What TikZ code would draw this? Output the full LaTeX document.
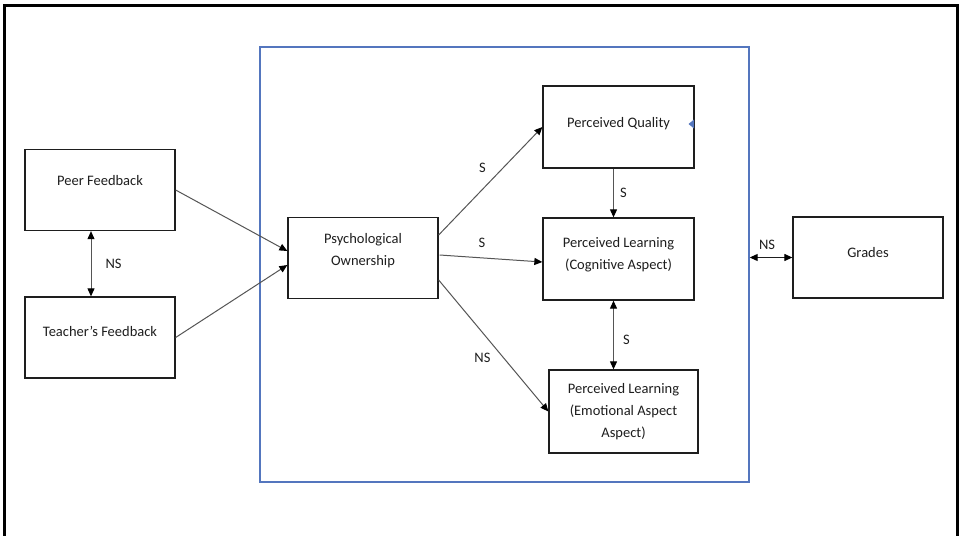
\documentclass[tikz,border=0pt]{standalone}
\usepackage{fontspec}
\setmainfont{Carlito}
\usetikzlibrary{arrows.meta,calc}
\definecolor{panelblue}{RGB}{84,118,190}
\definecolor{linegray}{RGB}{85,85,85}
\definecolor{ink}{RGB}{30,30,30}
\tikzset{
  box/.style={draw=ink, line width=1.3pt, minimum width=150pt, minimum height=81pt, inner sep=0pt},
  txt/.style={font=\fontsize{14.5}{22}\selectfont, align=center, text=ink},
  conn/.style={draw=linegray, line width=1pt, -{Triangle[length=8pt,width=7pt,color=black]}},
  dconn/.style={draw=linegray, line width=1pt, {Triangle[length=8pt,width=7pt,color=black]}-{Triangle[length=8pt,width=7pt,color=black]}},
  lbl/.style={font=\fontsize{14.5}{17}\selectfont, text=ink, inner sep=0pt},
}
\begin{document}
\begin{tikzpicture}[x=1pt,y=-1pt]
\useasboundingbox (0,0) rectangle (960,535);
\clip (0,0) rectangle (960,535);
\fill[white] (0,0) rectangle (960,535);
\draw[line width=3pt] (4,545) -- (4,6) -- (957,6) -- (957,545);
\node[draw=panelblue, line width=1.4pt, minimum width=489pt, minimum height=435pt, inner sep=0pt] (panel) at (504.5,264.5) {};

\node[box, label={[txt, yshift=9pt]center:Peer Feedback}] (peer) at (100,190) {};
\node[box, label={[txt, yshift=6.5pt]center:Teacher’s Feedback}] (teacher) at (100,337.5) {};
\node[box, label={[txt, yshift=7pt]center:Psychological\\Ownership}] (psych) at (363,258) {};
\node[box, minimum width=151pt, minimum height=82pt, label={[txt, yshift=3pt]center:Perceived Quality}] (pq) at (618.5,127) {};
\node[box, minimum width=151pt, minimum height=82pt, label={[txt, yshift=4pt]center:Perceived Learning\\(Cognitive Aspect)}] (cog) at (618.5,259) {};
\node[box, minimum width=149pt, minimum height=83pt, label={[txt]center:Perceived Learning\\(Emotional Aspect\\Aspect)}] (emo) at (623.5,411.5) {};
\node[box, label={[txt, yshift=5pt]center:Grades}] (grades) at (868,257.5) {};

\fill[panelblue] (694,119.5) -- (694,128.5) -- (688.5,124) -- cycle;

\draw[conn] (peer.east) -- ([yshift=7pt]psych.west);
\draw[conn] (teacher.east) -- ([yshift=-7pt]psych.west);
\draw[dconn] ([xshift=-9pt]peer.south) -- node[lbl, right=14pt] {NS} ([xshift=-9pt]teacher.north);

\draw[conn] ([yshift=23pt]psych.east) -- node[lbl, xshift=-8pt, yshift=13pt] {S} (pq.west);
\draw[conn] ([xshift=1pt,yshift=3pt]psych.east) -- node[lbl, xshift=-9pt, yshift=16pt] {S} ([yshift=-3pt]cog.west);
\draw[conn] ([yshift=-22pt]psych.east) -- node[lbl, xshift=-11pt, yshift=-12pt] {NS} (emo.west);

\draw[conn] ([xshift=-5pt]pq.south) -- node[lbl, right=6pt] {S} ([xshift=-5pt]cog.north);
\draw[dconn] ([xshift=-5pt]cog.south) -- node[lbl, right=9pt, yshift=-5pt] {S} ([xshift=-5pt]cog.south |- emo.north);
\draw[dconn, draw=ink, line width=1.2pt] (panel.east |- grades.west) -- node[lbl, above=7pt, xshift=-4pt] {NS} (grades.west);
\end{tikzpicture}
\end{document}
